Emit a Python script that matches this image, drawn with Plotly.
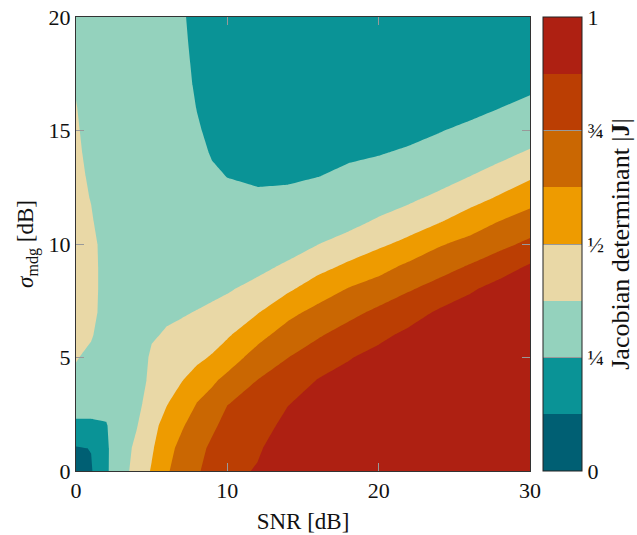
import numpy as np
import plotly.graph_objects as go

# SNR grid [dB] (columns) and sigma_mdg grid [dB] (rows)
snr_db = [0, 1, 2, 3, 4, 5, 6, 7, 8, 9, 10, 12, 14, 16, 18, 20, 22, 24, 26, 28, 30]
sigma_mdg_db = list(range(0, 21))

# Jacobian determinant, one list per SNR column (bottom -> top)
det_snr_0 = [0.08, 0.115, 0.235, 0.285, 0.34, 0.385, 0.41, 0.42, 0.43, 0.43, 0.43, 0.425, 0.42, 0.41, 0.4, 0.39, 0.38, 0.365, 0.35, 0.34, 0.33]
det_snr_1 = [0.115, 0.128, 0.235, 0.285, 0.31, 0.34, 0.39, 0.43, 0.44, 0.44, 0.43, 0.39, 0.37, 0.355, 0.34, 0.33, 0.32, 0.315, 0.31, 0.305, 0.3]
det_snr_2 = [0.235, 0.235, 0.245, 0.275, 0.28, 0.29, 0.295, 0.3, 0.3, 0.3, 0.3, 0.3, 0.3, 0.295, 0.295, 0.29, 0.29, 0.285, 0.285, 0.28, 0.28]
det_snr_3 = [0.327, 0.321, 0.306, 0.3, 0.29, 0.29, 0.3, 0.31, 0.31, 0.31, 0.31, 0.31, 0.305, 0.3, 0.3, 0.295, 0.29, 0.29, 0.285, 0.28, 0.28]
det_snr_4 = [0.42, 0.4, 0.368, 0.335, 0.3, 0.32, 0.33, 0.33, 0.33, 0.33, 0.33, 0.325, 0.32, 0.315, 0.31, 0.305, 0.3, 0.295, 0.29, 0.285, 0.28]
det_snr_5 = [0.51, 0.485, 0.461, 0.438, 0.414, 0.39, 0.365, 0.355, 0.345, 0.34, 0.335, 0.33, 0.325, 0.32, 0.315, 0.31, 0.305, 0.3, 0.295, 0.29, 0.285]
det_snr_6 = [0.61, 0.585, 0.545, 0.493, 0.457, 0.42, 0.384, 0.36, 0.35, 0.34, 0.33, 0.32, 0.315, 0.31, 0.305, 0.3, 0.295, 0.29, 0.285, 0.28, 0.275]
det_snr_7 = [0.69, 0.66, 0.613, 0.554, 0.496, 0.452, 0.408, 0.363, 0.355, 0.348, 0.34, 0.33, 0.32, 0.31, 0.305, 0.3, 0.295, 0.285, 0.28, 0.273, 0.267]
det_snr_8 = [0.735, 0.71, 0.68, 0.627, 0.544, 0.478, 0.429, 0.38, 0.33, 0.325, 0.32, 0.313, 0.303, 0.29, 0.276, 0.2615, 0.247, 0.235, 0.225, 0.215, 0.205]
det_snr_9 = [0.8, 0.775, 0.727, 0.67, 0.606, 0.51, 0.452, 0.399, 0.346, 0.335, 0.32, 0.304, 0.284, 0.264, 0.243, 0.225, 0.205, 0.19, 0.18, 0.17, 0.165]
det_snr_10 = [0.84, 0.82, 0.79, 0.7455, 0.656, 0.567, 0.485, 0.424, 0.363, 0.343, 0.321, 0.297, 0.272, 0.248, 0.225, 0.2, 0.185, 0.17, 0.165, 0.16, 0.155]
det_snr_12 = [0.885, 0.86, 0.821, 0.786, 0.752, 0.673, 0.5865, 0.492, 0.417, 0.341, 0.322, 0.297, 0.266, 0.235, 0.205, 0.185, 0.17, 0.16, 0.155, 0.15, 0.15]
det_snr_14 = [0.96, 0.945, 0.91, 0.869, 0.8095, 0.749, 0.676, 0.591, 0.483, 0.397, 0.315, 0.3, 0.274, 0.235, 0.2, 0.18, 0.165, 0.16, 0.155, 0.15, 0.15]
det_snr_16 = [0.97, 0.965, 0.95, 0.92, 0.88, 0.809, 0.738, 0.66, 0.565, 0.463, 0.373, 0.332, 0.291, 0.248, 0.215, 0.19, 0.175, 0.165, 0.16, 0.155, 0.15]
det_snr_18 = [0.97, 0.97, 0.96, 0.945, 0.91, 0.868, 0.794, 0.717, 0.633, 0.523, 0.426, 0.333, 0.3125, 0.269, 0.235, 0.21, 0.19, 0.175, 0.165, 0.16, 0.155]
det_snr_20 = [0.97, 0.97, 0.97, 0.96, 0.94, 0.91, 0.848, 0.773, 0.683, 0.582, 0.478, 0.392, 0.307, 0.288, 0.245, 0.22, 0.2, 0.185, 0.175, 0.165, 0.16]
det_snr_22 = [0.97, 0.97, 0.97, 0.97, 0.96, 0.94, 0.9, 0.825, 0.741, 0.652, 0.533, 0.4375, 0.354, 0.314, 0.265, 0.22, 0.205, 0.195, 0.185, 0.175, 0.17]
det_snr_24 = [0.97, 0.97, 0.97, 0.97, 0.965, 0.955, 0.935, 0.89, 0.796, 0.705, 0.6125, 0.491, 0.405, 0.319, 0.2925, 0.245, 0.225, 0.21, 0.195, 0.185, 0.175]
det_snr_26 = [0.97, 0.97, 0.97, 0.97, 0.97, 0.965, 0.955, 0.93, 0.86, 0.76, 0.663, 0.557, 0.457, 0.3725, 0.3225, 0.2725, 0.22, 0.21, 0.2, 0.19, 0.18]
det_snr_28 = [0.97, 0.97, 0.97, 0.97, 0.97, 0.965, 0.96, 0.945, 0.92, 0.821, 0.718, 0.627, 0.516, 0.427, 0.34, 0.302, 0.249, 0.23, 0.21, 0.195, 0.185]
det_snr_30 = [0.97, 0.97, 0.97, 0.97, 0.97, 0.97, 0.96, 0.945, 0.92, 0.89, 0.775, 0.679, 0.583, 0.482, 0.393, 0.303, 0.281, 0.225, 0.21, 0.2, 0.19]

columns = [det_snr_0, det_snr_1, det_snr_2, det_snr_3, det_snr_4, det_snr_5, det_snr_6,
           det_snr_7, det_snr_8, det_snr_9, det_snr_10, det_snr_12, det_snr_14, det_snr_16,
           det_snr_18, det_snr_20, det_snr_22, det_snr_24, det_snr_26, det_snr_28, det_snr_30]
z = np.array(columns).T  # rows = sigma_mdg, cols = SNR

band_colors = ['#005f73', '#0a9396', '#94d2bd', '#e9d8a6',
               '#ee9b00', '#ca6702', '#bb3e03', '#ae2012']
x_ticks = [0, 10, 20, 30]
y_ticks = [0, 5, 10, 15, 20]
cb_tickvals = [0, 0.25, 0.5, 0.75, 1]
cb_ticktext = ['0', '¼', '½', '¾', '1']

n = len(band_colors)
colorscale = []
for i, c in enumerate(band_colors):
    colorscale.append([i / n, c])
    colorscale.append([(i + 1) / n, c])

FONT = 'Liberation Serif'
FS = 22

fig = go.Figure(go.Contour(
    x=snr_db, y=sigma_mdg_db, z=z,
    colorscale=colorscale, zmin=0, zmax=1, zauto=False,
    autocontour=False,
    contours=dict(start=0, end=1, size=1 / n, coloring='fill', showlines=False),
    line=dict(width=0, smoothing=0),
    colorbar=dict(
        x=1.0286, xanchor='left', xref='paper',
        y=0.5, yanchor='middle', len=1, lenmode='fraction',
        thickness=39, thicknessmode='pixels',
        outlinewidth=1, outlinecolor='#222',
        tickvals=cb_tickvals, ticktext=cb_ticktext,
        ticks='inside', ticklen=39, tickcolor='#999', tickwidth=1,
        tickfont=dict(family=FONT, size=FS, color='#111'),
        title=dict(text='Jacobian determinant |<b>J</b>|', side='right',
                   font=dict(family=FONT, size=26, color='#111')),
        xpad=0, ypad=0,
    ),
))

axis_common = dict(
    showgrid=False, zeroline=False, showline=True, linecolor='#333', linewidth=1,
    mirror='ticks', ticks='inside', ticklen=8, tickcolor='#999', tickwidth=1,
    tickfont=dict(family=FONT, size=FS, color='#111'),
    automargin=False,
)
fig.update_xaxes(range=[0, 30], tickvals=x_ticks,
                 title=dict(text='SNR [dB]', font=dict(family=FONT, size=FS + 1, color='#111'), standoff=10),
                 **axis_common)
fig.update_yaxes(range=[0, 20], tickvals=y_ticks,
                 title=dict(text='<i>σ</i><sub>mdg</sub> [dB]', font=dict(family=FONT, size=FS + 1, color='#111'), standoff=8),
                 **axis_common)

fig.update_layout(
    width=637, height=535,
    margin=dict(l=76, r=107, t=17, b=64, autoexpand=False),
    paper_bgcolor='white', plot_bgcolor='white',
    font=dict(family=FONT, color='#111'),
)

fig.write_html('out.html',
               config={'displayModeBar': False},
               post_script="document.body.style.margin='0';"
                           "document.documentElement.style.overflow='hidden';")
